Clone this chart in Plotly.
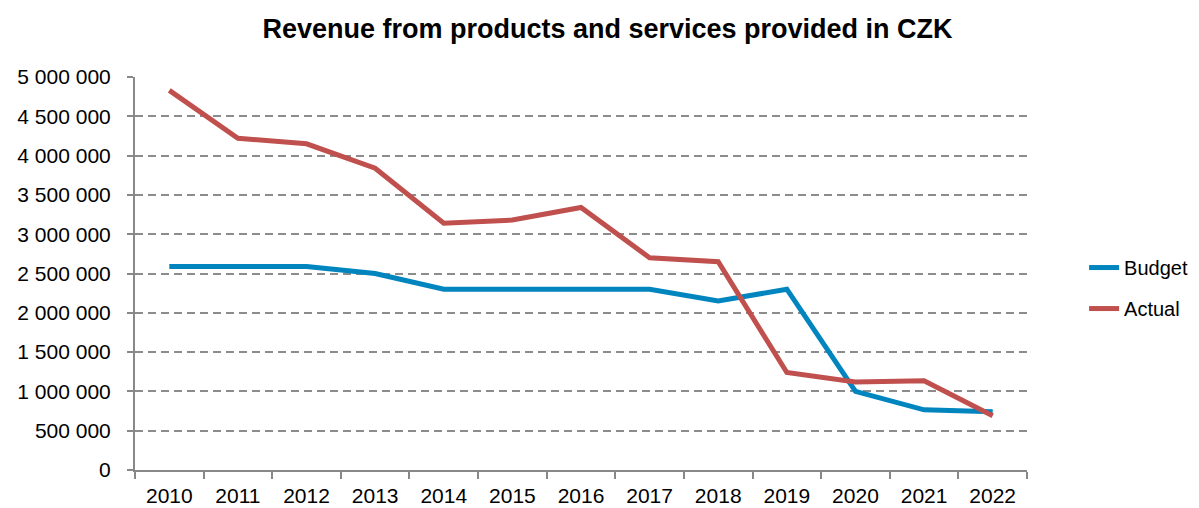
import plotly.graph_objects as go

years = ["2010", "2011", "2012", "2013", "2014", "2015", "2016",
         "2017", "2018", "2019", "2020", "2021", "2022"]
budget = [2590000, 2590000, 2590000, 2500000, 2300000, 2300000, 2300000,
          2300000, 2150000, 2300000, 1000000, 765000, 740000]
actual = [4830000, 4220000, 4150000, 3840000, 3140000, 3180000, 3340000,
          2700000, 2650000, 1240000, 1120000, 1135000, 690000]
y_ticks = list(range(0, 5000001, 500000))

font_family = "Liberation Sans, Arial, sans-serif"

fig = go.Figure()
fig.add_trace(go.Scatter(
    x=years, y=budget, name="Budget", mode="lines", legendgroup="b",
    line=dict(color="#0085BF", width=5),
))
fig.add_trace(go.Scatter(
    x=years, y=actual, name="Actual", mode="lines", legendgroup="a",
    line=dict(color="#C0504D", width=5),
))

# page body has an 8px margin, so the margins are shifted up/left by 8px
fig.update_layout(
    width=1199, height=508,
    margin=dict(l=127, r=180, t=69, b=46, autoexpand=False),
    plot_bgcolor="white",
    paper_bgcolor="white",
    separators=", ",
    font=dict(family=font_family, size=21, color="#000000"),
    title=dict(
        text="<b>Revenue from products and services provided in CZK</b>",
        x=0.5, xanchor="center", y=0.96, yanchor="middle",
        font=dict(size=27, family=font_family, color="#000000"),
    ),
    legend=dict(
        x=1.064, y=0.463, xanchor="left", yanchor="middle",
        font=dict(size=20), bgcolor="rgba(0,0,0,0)",
        tracegroupgap=12,
    ),
)
fig.update_xaxes(
    type="category", tickson="boundaries", range=[-0.5, 12.5],
    showline=True, linecolor="#888888", linewidth=2,
    ticks="outside", ticklen=7, tickcolor="#888888", tickwidth=2,
    ticklabelstandoff=6,
    showgrid=False, automargin=False,
)
fig.update_yaxes(
    range=[0, 5000000], tickvals=y_ticks, tickformat=",d",
    showline=True, linecolor="#888888", linewidth=2,
    ticks="outside", ticklen=6, tickcolor="#888888", tickwidth=2,
    ticklabelstandoff=12,
    showgrid=True, gridcolor="#8C8C8C", gridwidth=1.5, griddash="8px,5px",
    zeroline=False, automargin=False,
)

fig.write_html("out.html")
